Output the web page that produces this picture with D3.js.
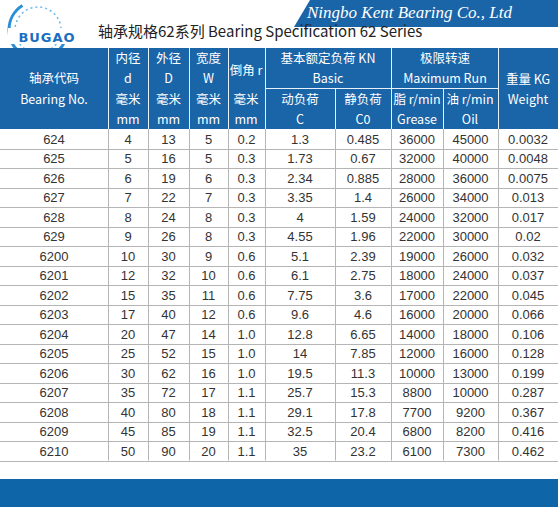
<!DOCTYPE html><html><head><meta charset="utf-8"><script src="https://d3js.org/d3.v7.min.js"></script>
<style>body{margin:0;background:#fff}svg{display:block}</style></head><body><svg id="c" width="558" height="507"></svg>
<script>
const bearingNo=["624","625","626","627","628","629","6200","6201","6202","6203","6204","6205","6206","6207","6208","6209","6210"];
const boreD=["4","5","6","7","8","9","10","12","15","17","20","25","30","35","40","45","50"];
const outerD=["13","16","19","22","24","26","30","32","35","40","47","52","62","72","80","85","90"];
const widthW=["5","5","6","7","8","8","9","10","11","12","14","15","16","17","18","19","20"];
const chamfer=["0.2","0.3","0.3","0.3","0.3","0.3","0.6","0.6","0.6","0.6","1.0","1.0","1.0","1.1","1.1","1.1","1.1"];
const dynC=["1.3","1.73","2.34","3.35","4","4.55","5.1","6.1","7.75","9.6","12.8","14","19.5","25.7","29.1","32.5","35"];
const statC0=["0.485","0.67","0.885","1.4","1.59","1.96","2.39","2.75","3.6","4.6","6.65","7.85","11.3","15.3","17.8","20.4","23.2"];
const grease=["36000","32000","28000","26000","24000","22000","19000","18000","17000","16000","14000","12000","10000","8800","7700","6800","6100"];
const oil=["45000","40000","36000","34000","32000","30000","26000","24000","22000","20000","18000","16000","13000","10000","9200","8200","7300"];
const weight=["0.0032","0.0048","0.0075","0.013","0.017","0.02","0.032","0.037","0.045","0.066","0.106","0.128","0.199","0.287","0.367","0.416","0.462"];
const cols=[bearingNo,boreD,outerD,widthW,chamfer,dynC,statC0,grease,oil,weight];
const colEdges=[0,108,148,189,228,265,335,391,443,498,558];
const svg=d3.select("#c");
const F="'Noto Sans CJK SC','Noto Sans',sans-serif";
const blue="#1a64a8";
svg.append("path").attr("d","M310,0 L558,0 L558,27 L294,27 Z").attr("fill",blue);
svg.append("text").attr("x",512).attr("y",18).attr("text-anchor","end").attr("fill","#fff")
 .attr("font-family","'Liberation Serif',serif").attr("font-style","italic").attr("font-size",17).text("Ningbo Kent Bearing Co., Ltd");
svg.append("text").attr("x",98).attr("y",37).attr("font-family",F).attr("font-size",15).attr("fill","#222").text("轴承规格62系列 Bearing Specification 62 Series");
const lg=svg.append("g");
lg.append("circle").attr("cx",38).attr("cy",30).attr("r",29).attr("fill","none").attr("stroke","#2b8fd8").attr("stroke-width",3).attr("stroke-dasharray","120 60");
lg.append("circle").attr("cx",38).attr("cy",30).attr("r",23).attr("fill","none").attr("stroke","#6ab8ea").attr("stroke-width",1.5).attr("stroke-dasharray","2 3");
lg.append("rect").attr("x",8).attr("y",28).attr("width",78).attr("height",16).attr("fill","#fff");
lg.append("text").attr("x",47).attr("y",42).attr("text-anchor","middle").attr("font-family","'DejaVu Sans'").attr("font-weight","bold").attr("font-size",13).attr("fill","#1c6fc0").attr("letter-spacing",1).text("BUGAO");
const hTop=48,hBot=129,hMid=88;
svg.append("rect").attr("x",0).attr("y",hTop).attr("width",558).attr("height",hBot-hTop).attr("fill",blue);
const hl=svg.append("g").attr("stroke","#e8f0f8").attr("stroke-width",1);
colEdges.slice(1,-1).forEach((x,i)=>{ if(i!==5&&i!==7) hl.append("line").attr("x1",x+.5).attr("x2",x+.5).attr("y1",hTop).attr("y2",hBot); else hl.append("line").attr("x1",x+.5).attr("x2",x+.5).attr("y1",hMid).attr("y2",hBot);});
hl.append("line").attr("x1",265).attr("x2",498).attr("y1",hMid+.5).attr("y2",hMid+.5);
const ht=(x,y,t,s)=>svg.append("text").attr("x",x).attr("y",y).attr("text-anchor","middle").attr("fill","#fff").attr("font-family",F).attr("font-size",s||12.5).text(t);
ht(54,83,"轴承代码");ht(54,104,"Bearing No.");
[["内径","d"],["外径","D"],["宽度","W"]].forEach((p,i)=>{const cx=(colEdges[i+1]+colEdges[i+2])/2;ht(cx,63,p[0]);ht(cx,83,p[1]);ht(cx,104,"毫米");ht(cx,124,"mm");});
ht(246,75,"倒角 r");ht(246,104,"毫米");ht(246,124,"mm");
ht(328,63,"基本额定负荷 KN");ht(328,83,"Basic");
ht(300,104,"动负荷");ht(300,124,"C");ht(363,104,"静负荷");ht(363,124,"C0");
ht(445,63,"极限转速");ht(445,83,"Maximum Run");
ht(417,104,"脂 r/min");ht(417,124,"Grease");ht(470,104,"油 r/min");ht(470,124,"Oil");
ht(528,84,"重量 KG");ht(528,104,"Weight");
const y=d3.scaleBand().domain(bearingNo).range([hBot,hBot+17*19.5]);
const g=svg.append("g");
bearingNo.forEach((b,r)=>{
 g.append("line").attr("x1",0).attr("x2",558).attr("y1",Math.round(y(b)+y.bandwidth())+.5).attr("y2",Math.round(y(b)+y.bandwidth())+.5).attr("stroke","#b5b5b5");
 cols.forEach((c,i)=>{
  g.append("text").attr("x",(colEdges[i]+colEdges[i+1])/2).attr("y",y(b)+y.bandwidth()/2+5).attr("text-anchor","middle")
   .attr("font-family","'Liberation Sans',sans-serif").attr("font-size",13).attr("fill","#333").text(c[r]);
 });
});
colEdges.slice(1,-1).forEach(x=>g.append("line").attr("x1",x+.5).attr("x2",x+.5).attr("y1",hBot).attr("y2",y.range()[1]).attr("stroke","#b5b5b5"));
svg.append("rect").attr("x",0).attr("y",479).attr("width",558).attr("height",28).attr("fill","#0e66a8");
</script></body></html>
